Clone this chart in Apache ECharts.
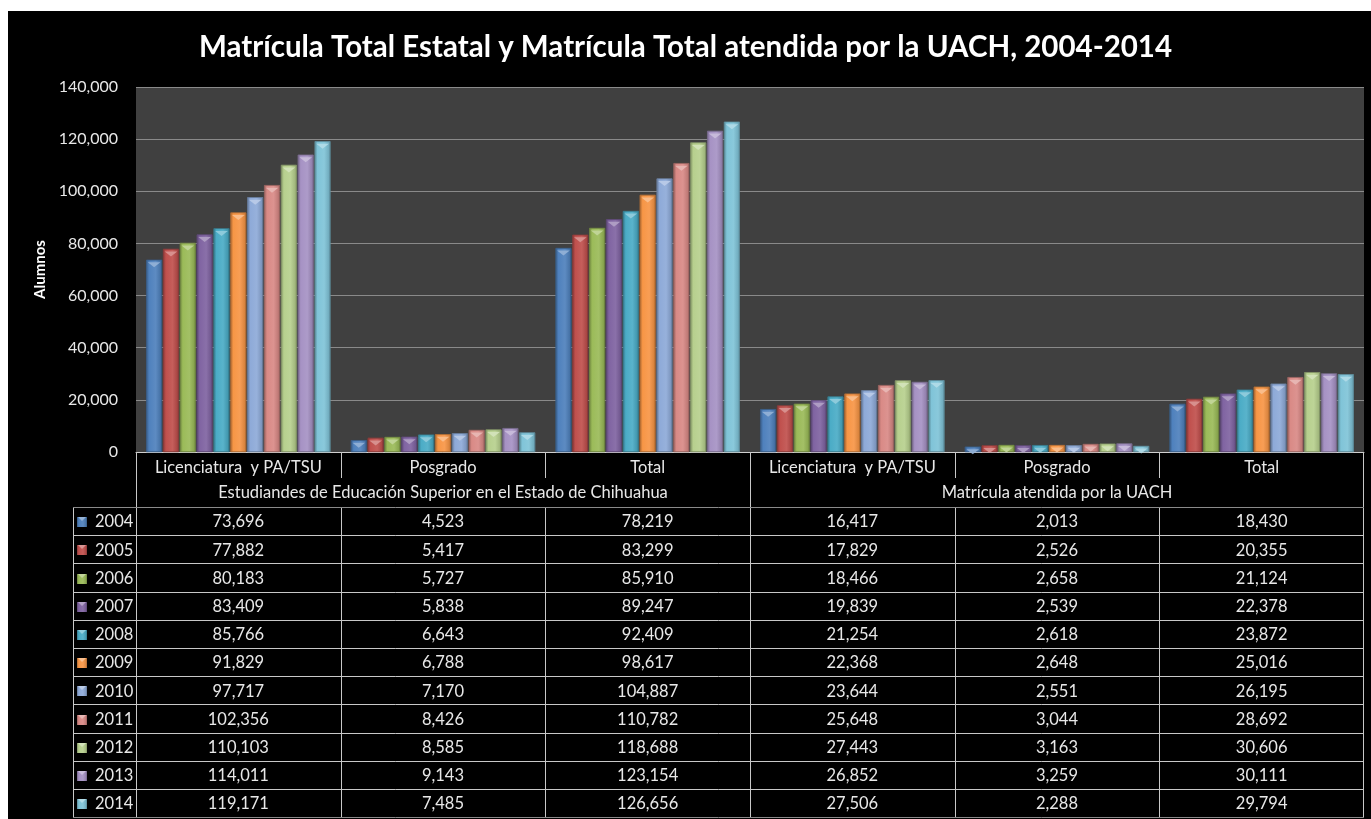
<!DOCTYPE html>
<html>
<head>
<meta charset="utf-8">
<script src="https://cdn.jsdelivr.net/npm/echarts@6/dist/echarts.min.js"></script>
<style>
html, body { margin: 0; padding: 0; background: #fff; }
#main { width: 1371px; height: 819px; }
</style>
</head>
<body>
<div id="main"></div>
<script>
// categorias del eje x
var categories = ['Licenciatura  y PA/TSU', 'Posgrado', 'Total', 'Licenciatura  y PA/TSU', 'Posgrado', 'Total'];
var groups = ['Estudiandes de Educación Superior en el Estado de Chihuahua', 'Matrícula atendida por la UACH'];
var years = ['2004', '2005', '2006', '2007', '2008', '2009', '2010', '2011', '2012', '2013', '2014'];
var yTicks = [0, 20000, 40000, 60000, 80000, 100000, 120000, 140000];

// valores por año
var v2004 = [73696, 4523, 78219, 16417, 2013, 18430];
var v2005 = [77882, 5417, 83299, 17829, 2526, 20355];
var v2006 = [80183, 5727, 85910, 18466, 2658, 21124];
var v2007 = [83409, 5838, 89247, 19839, 2539, 22378];
var v2008 = [85766, 6643, 92409, 21254, 2618, 23872];
var v2009 = [91829, 6788, 98617, 22368, 2648, 25016];
var v2010 = [97717, 7170, 104887, 23644, 2551, 26195];
var v2011 = [102356, 8426, 110782, 25648, 3044, 28692];
var v2012 = [110103, 8585, 118688, 27443, 3163, 30606];
var v2013 = [114011, 9143, 123154, 26852, 3259, 30111];
var v2014 = [119171, 7485, 126656, 27506, 2288, 29794];
var values = [v2004, v2005, v2006, v2007, v2008, v2009, v2010, v2011, v2012, v2013, v2014];

var colors = ['#4f81bd', '#c0504d', '#9bbb59', '#8064a2', '#4bacc6', '#f79646',
	'#8eaad8', '#d98a86', '#b7d08e', '#a692c4', '#80c4d8'];

var FONT = 'Lato, "Open Sans", sans-serif';
var TXT = '#e8e8e8';

function shade(hex, f) {
	var r = parseInt(hex.substr(1, 2), 16), g = parseInt(hex.substr(3, 2), 16), b = parseInt(hex.substr(5, 2), 16);
	function c(x) {
		x = f < 0 ? x * (1 + f) : x + (255 - x) * f;
		return Math.max(0, Math.min(255, Math.round(x)));
	}
	return 'rgb(' + c(r) + ',' + c(g) + ',' + c(b) + ')';
}

function barColor(hex) {
	return new echarts.graphic.LinearGradient(0, 0, 1, 0, [
		{ offset: 0, color: shade(hex, -0.3) },
		{ offset: 0.18, color: hex },
		{ offset: 0.6, color: shade(hex, 0.08) },
		{ offset: 0.9, color: shade(hex, -0.12) },
		{ offset: 1, color: shade(hex, -0.35) }
	]);
}

function fmt(n) {
	return String(n).replace(/\B(?=(\d{3})+(?!\d))/g, ',');
}

// layout
var gridLeft = 136, gridRight = 1364, gridTop = 87, gridBottom = 452;
var W = 1371, H = 819;
var rowTop = 507, rowH = 28.2;
var keyLeft = 73;

var series = [];
for (var i = 0; i < years.length; i++) {
	series.push({
		name : years[i],
		type : 'bar',
		data : values[i],
		barGap : '7%',
		barCategoryGap : '10%',
		itemStyle : {
			color : barColor(colors[i]),
			borderColor : shade(colors[i], -0.25),
			borderWidth : 0.5
		}
	});
}
// bisel superior de cada barra
for (var i = 0; i < years.length; i++) {
	series.push({
		name : years[i] + '-top',
		type : 'pictorialBar',
		data : values[i],
		barGap : '7%',
		barCategoryGap : '10%',
		symbol : 'triangle',
		symbolRotate : 180,
		symbolPosition : 'end',
		symbolSize : ['80%', 5],
		symbolOffset : [0, 2.5],
		z : 3,
		silent : true,
		itemStyle : { color : shade(colors[i], 0.4), opacity : 0.9 }
	});
}

// tabla de datos dibujada con graphic
var colW = (gridRight - gridLeft) / categories.length;
var bottomY = rowTop + rowH * years.length;
var gfx = [];
gfx.push({ type : 'rect', z : -10, shape : { x : 8, y : 11, width : W - 8, height : H - 11 }, style : { fill : '#000' } });

function line(x1, y1, x2, y2, color) {
	gfx.push({ type : 'line', z : 10, shape : { x1 : x1, y1 : y1, x2 : x2, y2 : y2 },
		style : { stroke : color || '#c8c8c8', lineWidth : 1 } });
}
function text(x, y, s, align) {
	gfx.push({ type : 'text', z : 11, x : x, y : y,
		style : { text : s, fill : TXT, font : '16.5px ' + FONT, align : align || 'center', verticalAlign : 'middle' } });
}

// filas de grupo
for (var g = 0; g < groups.length; g++) {
	text(gridLeft + colW * 3 * g + colW * 1.5, 493, groups[g]);
}
// separadores del eje
for (var c = 1; c < categories.length; c++) {
	var xx = Math.round(gridLeft + colW * c) + 0.5;
	if (c === 3) {
		line(xx, gridBottom, xx, bottomY);
	} else {
		line(xx, gridBottom, xx, 478);
		line(xx, rowTop, xx, bottomY);
	}
}
line(gridLeft + 0.5, gridBottom, gridLeft + 0.5, bottomY);
line(gridRight - 0.5, gridBottom, gridRight - 0.5, bottomY);
line(keyLeft + 0.5, rowTop, keyLeft + 0.5, bottomY);
line(keyLeft, rowTop + 0.5, gridRight, rowTop + 0.5, '#8a8a8a');
for (var r = 0; r < years.length; r++) {
	var y0 = rowTop + rowH * r;
	var yb = Math.round(y0 + rowH) + 0.5;
	line(keyLeft, yb, gridRight, yb, r === years.length - 1 ? '#8a8a8a' : '#c8c8c8');
	var cy = y0 + rowH / 2 + 1;
	// clave de la leyenda
	gfx.push({ type : 'rect', z : 11, shape : { x : 77, y : Math.round(cy) - 5, width : 10, height : 10 },
		style : { fill : barColor(colors[r]) } });
	gfx.push({ type : 'polygon', z : 12, shape : { points : [[78, Math.round(cy) - 5], [86, Math.round(cy) - 5], [82, Math.round(cy) - 1]] },
		style : { fill : shade(colors[r], 0.4) } });
	text(95, cy, years[r], 'left');
	for (var k = 0; k < categories.length; k++) {
		text(gridLeft + colW * k + colW / 2, cy, fmt(values[r][k]));
	}
}

var myChart = echarts.init(document.getElementById('main'));
var option = {
	backgroundColor : '#fff',
	title : {
		text : 'Matrícula Total Estatal y Matrícula Total atendida por la UACH, 2004-2014',
		left : 'center',
		top : 27,
		textStyle : { color : '#fff', fontSize : 29.5, fontWeight : 'bold', fontFamily : FONT }
	},
	grid : {
		left : gridLeft,
		right : W - gridRight,
		top : gridTop,
		bottom : H - gridBottom,
		show : true,
		backgroundColor : '#404040',
		borderWidth : 0
	},
	xAxis : {
		type : 'category',
		data : categories,
		axisLine : { lineStyle : { color : '#d0d0d0', width : 1 } },
		axisTick : { show : false },
		axisLabel : { color : TXT, fontSize : 16.5, fontFamily : FONT, margin : 7, interval : 0 }
	},
	yAxis : {
		type : 'value',
		min : yTicks[0],
		max : yTicks[yTicks.length - 1],
		interval : yTicks[1] - yTicks[0],
		name : 'Alumnos',
		nameLocation : 'middle',
		nameRotate : 90,
		nameGap : 86,
		nameTextStyle : { color : '#fff', fontSize : 15, fontWeight : 'bold', fontFamily : FONT },
		axisLine : { show : false },
		axisTick : { show : false },
		axisLabel : { color : TXT, fontSize : 16, fontFamily : FONT, margin : 18, formatter : function(v) { return fmt(v); } },
		splitLine : { lineStyle : { color : '#8a8a8a', width : 1 } }
	},
	graphic : gfx,
	series : series
};
myChart.setOption(option);
</script>
</body>
</html>
